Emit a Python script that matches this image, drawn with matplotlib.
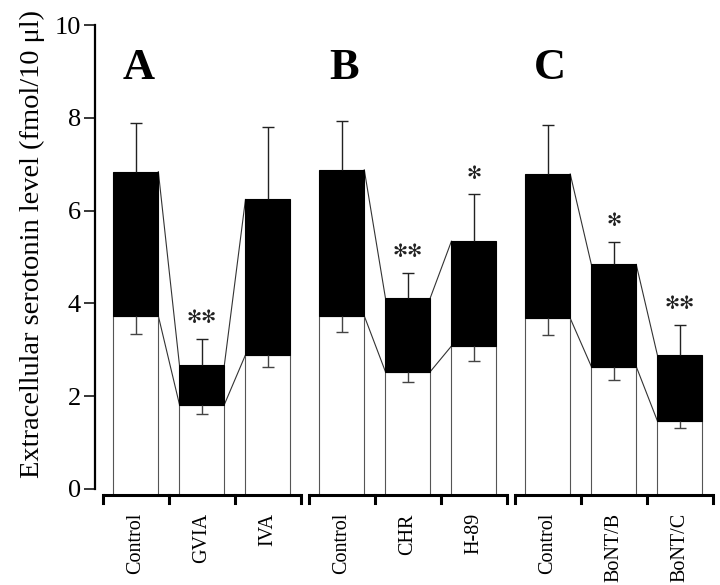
import numpy as np
import matplotlib
matplotlib.use("Agg")
import matplotlib.pyplot as plt

plt.rcParams['font.family'] = ['Liberation Serif', 'DejaVu Serif']

# data (fmol / 10 ul)
etiketler = ["Control", "GVIA", "IVA", "Control", "CHR", "H-89", "Control", "BoNT/B", "BoNT/C"]
paneller = ["A", "B", "C"]
bazal = [3.73, 1.82, 2.89, 3.73, 2.53, 3.08, 3.68, 2.64, 1.47]      # white part
bazal_hata = [0.39, 0.20, 0.27, 0.35, 0.23, 0.32, 0.36, 0.28, 0.16]
uyarilmis = [6.84, 2.67, 6.24, 6.88, 4.12, 5.34, 6.79, 4.84, 2.89]  # top of black part
uyarilmis_hata = [1.04, 0.57, 1.57, 1.06, 0.54, 1.01, 1.06, 0.48, 0.65]
yildizlar = ["", "**", "", "", "**", "*", "", "*", "**"]

grup_araligi = 3.12
genislik = 0.68
alt = -0.13  # level of the bracket axis under the bars

x = np.array([g * grup_araligi + i for g in range(3) for i in range(3)])
bazal = np.array(bazal)
uyarilmis = np.array(uyarilmis)
bazal_hata = np.array(bazal_hata)
uyarilmis_hata = np.array(uyarilmis_hata)

fig = plt.figure(figsize=(7.2, 5.85), dpi=100)
ax = fig.add_axes([0.1319, 0.1538, 0.8636, 0.8034])

# white (basal) and black (stimulated) parts
ax.bar(x, bazal - alt, bottom=alt, width=genislik, color='white', edgecolor='#555555', linewidth=0.8, zorder=2)
ax.bar(x, uyarilmis - bazal, bottom=bazal, width=genislik, color='black', edgecolor='black', linewidth=0.8, zorder=2)

# one sided error bars (stem + cap only at the far end)
ax.vlines(x, uyarilmis, uyarilmis + uyarilmis_hata, color='#222222', linewidth=1, zorder=3)
ax.plot(x, uyarilmis + uyarilmis_hata, '_', color='#222222', markersize=9, markeredgewidth=1, zorder=3)
ax.vlines(x, bazal - bazal_hata, bazal, color='#444444', linewidth=1, zorder=3)
ax.plot(x, bazal - bazal_hata, '_', color='#444444', markersize=9, markeredgewidth=1, zorder=3)

# lines joining neighbour bars inside one group
for g in range(3):
    for i in range(2):
        k = g * 3 + i
        for seri in (uyarilmis, bazal):
            ax.plot([x[k] + genislik / 2, x[k + 1] - genislik / 2], [seri[k], seri[k + 1]],
                    color='#333333', linewidth=0.8, zorder=1)

# significance stars
for k, s in enumerate(yildizlar):
    if s:
        ax.annotate("\u273b" * len(s), (x[k], uyarilmis[k] + uyarilmis_hata[k]),
                    xytext=(0, 15), textcoords='offset points', ha='center', va='center',
                    fontsize=13, family='DejaVu Sans', color='#222222')

# panel letters
for g, harf in enumerate(paneller):
    ax.text(x[g * 3] + 0.04, 9.08, harf, fontsize=32, fontweight='bold', ha='center', va='center')

# bracket shaped x axis, one piece per group
for g in range(3):
    sol = g * grup_araligi - 0.5
    sag = g * grup_araligi + 2.5
    ax.plot([sol, sag], [alt, alt], color='black', linewidth=2.2, clip_on=False, solid_capstyle='butt')
    for t in np.arange(sol, sag + 0.01, 1.0):
        ax.plot([t, t], [alt, alt - 0.18], color='black', linewidth=2.2, clip_on=False)

ax.set_xlim(-0.62, 8.8)
ax.set_ylim(alt, 10)
ax.set_yticks([0, 2, 4, 6, 8, 10])
ax.spines['left'].set_bounds(0, 10)
ax.spines['left'].set_linewidth(1.6)
for s in ('top', 'right', 'bottom'):
    ax.spines[s].set_visible(False)
ax.tick_params(axis='y', length=8, width=1.1, labelsize=19, pad=2)

ax.set_xticks(x)
ax.set_xticklabels(etiketler, rotation=90, fontsize=14.5, va='top')
ax.tick_params(axis='x', length=0, pad=13)

ax.set_ylabel("Extracellular serotonin level (fmol/10 \u03bcl)", fontsize=20.5)
ax.yaxis.set_label_coords(-0.08, 0.535)

plt.savefig("out.png", dpi=100)
